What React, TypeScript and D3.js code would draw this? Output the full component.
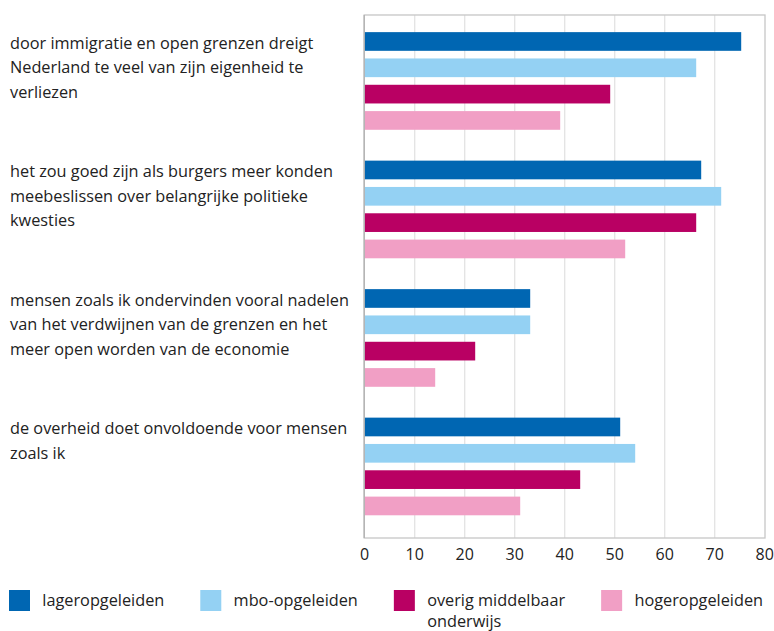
import * as d3 from "d3";
import { useEffect, useRef } from "react";

// statements (wrapped as in the original)
const statements = [
  ["door immigratie en open grenzen dreigt", "Nederland te veel van zijn eigenheid te", "verliezen"],
  ["het zou goed zijn als burgers meer konden", "meebeslissen over belangrijke politieke", "kwesties"],
  ["mensen zoals ik ondervinden vooral nadelen", "van het verdwijnen van de grenzen en het", "meer open worden van de economie"],
  ["de overheid doet onvoldoende voor mensen", "zoals ik"],
];

const seriesNames = ["lageropgeleiden", "mbo-opgeleiden", "overig middelbaar onderwijs", "hogeropgeleiden"];
const legendLines = [["lageropgeleiden"], ["mbo-opgeleiden"], ["overig middelbaar", "onderwijs"], ["hogeropgeleiden"]];
const colors = ["#0066b2", "#94d1f3", "#b90063", "#f19fc5"];

const lager = [75.3, 67.3, 33.1, 51.1];
const mbo = [66.3, 71.3, 33.1, 54.1];
const overig = [49.1, 66.3, 22.1, 43.1];
const hoger = [39.1, 52.1, 14.1, 31.1];

const ticks = [0, 10, 20, 30, 40, 50, 60, 70, 80];

const FONT = "'Open Sans', Lato, sans-serif";
const FS = 16.3;

const App = () => {
  const ref = useRef(null);

  useEffect(() => {
    d3.select(ref.current).select("svg").remove();

    const W = 774, H = 631;
    const left = 364.7, right = 764.7, top = 15, bottom = 538;

    const svg = d3
      .select(ref.current)
      .append("svg")
      .attr("width", W)
      .attr("height", H)
      .style("font-family", FONT)
      .style("display", "block");

    const x = d3.scaleLinear().domain([0, 80]).range([left, right]);
    const idx = statements.map((_, i) => i);
    const y = d3
      .scaleBand()
      .domain(idx)
      .range([top, bottom])
      .paddingInner(0.24)
      .paddingOuter(0.155)
      .align(0.43);
    const ySub = d3
      .scaleBand()
      .domain(seriesNames)
      .range([0, y.bandwidth()])
      .paddingInner(0.29);

    // gridlines
    svg
      .append("g")
      .selectAll("line")
      .data(ticks.slice(1, -1))
      .join("line")
      .attr("x1", (d) => x(d))
      .attr("x2", (d) => x(d))
      .attr("y1", top)
      .attr("y2", bottom)
      .attr("stroke", "#e3e3e3")
      .attr("stroke-width", 1.3);

    // frame
    svg
      .append("rect")
      .attr("x", x(0) - 0.5)
      .attr("y", top)
      .attr("width", x(80) - x(0) + 0.8)
      .attr("height", bottom - top)
      .attr("fill", "none")
      .attr("stroke", "#c6c6c6")
      .attr("stroke-width", 1.3);

    // bars
    const table = [lager, mbo, overig, hoger];
    const rows = idx.flatMap((i) =>
      seriesNames.map((s, k) => ({ i, s, k, v: table[k][i] }))
    );
    svg
      .append("g")
      .selectAll("rect")
      .data(rows)
      .join("rect")
      .attr("x", x(0))
      .attr("y", (d) => y(d.i) + ySub(d.s))
      .attr("width", (d) => x(d.v) - x(0))
      .attr("height", ySub.bandwidth())
      .attr("fill", (d) => colors[d.k]);

    // left axis line
    svg
      .append("line")
      .attr("x1", x(0) - 0.5)
      .attr("x2", x(0) - 0.5)
      .attr("y1", top)
      .attr("y2", bottom)
      .attr("stroke", "#b0b0b0")
      .attr("stroke-width", 1.3);

    // x tick labels
    svg
      .append("g")
      .selectAll("text")
      .data(ticks)
      .join("text")
      .attr("x", (d) => x(d))
      .attr("y", 560)
      .attr("text-anchor", "middle")
      .attr("font-size", 16)
      .attr("fill", "#222")
      .text((d) => d);

    // statement labels
    const lab = svg
      .append("g")
      .selectAll("text")
      .data(idx)
      .join("text")
      .attr("x", 10)
      .attr("y", (i) => y(i) + 16.5)
      .attr("font-size", FS)
      .attr("fill", "#222");
    lab
      .selectAll("tspan")
      .data((i) => statements[i])
      .join("tspan")
      .attr("x", 10)
      .attr("dy", (_, j) => (j === 0 ? 0 : 24.5))
      .text((d) => d);

    // legend, flowing left to right
    let lx = 9;
    legendLines.forEach((lines, k) => {
      const g = svg.append("g").attr("transform", `translate(${lx},590)`);
      g.append("rect").attr("width", 21).attr("height", 21).attr("fill", colors[k]);
      const t = g
        .append("text")
        .attr("x", 33.3)
        .attr("y", 16)
        .attr("font-size", FS)
        .attr("fill", "#222");
      t.selectAll("tspan")
        .data(lines)
        .join("tspan")
        .attr("x", 33.3)
        .attr("dy", (_, j) => (j === 0 ? 0 : 20.5))
        .text((d) => d);
      const w = d3.max(t.selectAll("tspan").nodes(), (n) => n.getComputedTextLength());
      lx += 33.3 + w + 36;
    });
  }, []);

  return <div ref={ref} style={{ position: "absolute", left: 0, top: 0 }} />;
};

export default App;
